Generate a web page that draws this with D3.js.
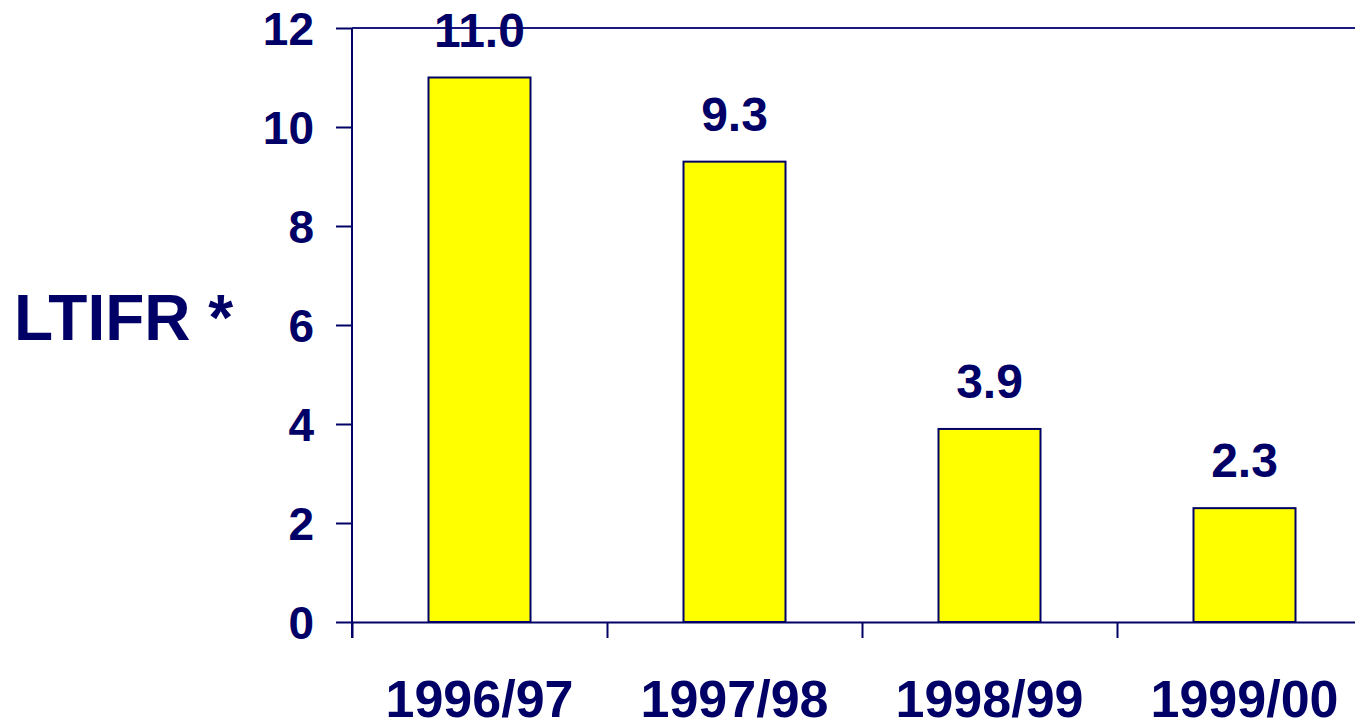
<!DOCTYPE html>
<html>
<head>
<meta charset="utf-8">
<script src="https://cdn.jsdelivr.net/npm/d3@7"></script>
<style>
    body { margin: 0; background: #fff; }
    svg text { font-family: Arial, "Liberation Sans", sans-serif; font-weight: bold; fill: #000066; }
    .axis path, .axis line { stroke: #000066; stroke-width: 2; }
</style>
</head>
<body>
<div id="chart"></div>
<script>
const years = ['1996/97', '1997/98', '1998/99', '1999/00']
const ltifr = [11.0, 9.3, 3.9, 2.3]
const yTicks = [0, 2, 4, 6, 8, 10, 12]
const yTitle = 'LTIFR *'

const width = 1355
const height = 722
const margin = {top: 28, left: 352}
const plotW = 1020
const plotH = 594

const svg = d3.select('#chart')
    .append('svg')
        .attr('width', width)
        .attr('height', height)

const plot = svg.append('g')
    .attr('transform', 'translate(' + margin.left + ',' + margin.top + ')')

// scales
const x = d3.scaleBand()
    .domain(years)
    .range([0, plotW])
    .paddingInner(0.6)
    .paddingOuter(0.3)

const xEdges = d3.scaleLinear()
    .domain([0, years.length])
    .range([0, plotW])

const y = d3.scaleLinear()
    .domain([0, 12])
    .range([plotH, 0])

// top border line at max value
plot.append('line')
    .attr('x1', 0)
    .attr('x2', plotW)
    .attr('y1', y(12))
    .attr('y2', y(12))
    .style('stroke', '#1a1a80')
    .style('stroke-width', 2)

// y axis
const yAxis = d3.axisLeft(y)
    .tickValues(yTicks)
    .tickSize(16)
    .tickPadding(22)
    .tickSizeOuter(0)

const yg = plot.append('g')
    .attr('class', 'axis')
    .call(yAxis)
yg.select('.domain').attr('d', 'M0,' + (plotH + 16) + 'V0')
yg.selectAll('text')
    .style('font-size', '46px')
    .attr('dy', '0.36em')

// x axis: ticks sit on category boundaries
const xAxis = d3.axisBottom(xEdges)
    .tickValues(d3.range(years.length + 1))
    .tickSize(16)
    .tickSizeOuter(0)
    .tickFormat('')

plot.append('g')
    .attr('class', 'axis')
    .attr('transform', 'translate(0,' + plotH + ')')
    .call(xAxis)

// category labels
plot.append('g')
    .selectAll('text')
    .data(years)
    .join('text')
        .attr('x', (d, i) => x(d) + x.bandwidth() / 2)
        .attr('y', plotH + 95)
        .attr('text-anchor', 'middle')
        .style('font-size', '52px')
        .text((d) => d)

// bars
plot.append('g')
    .selectAll('rect')
    .data(ltifr)
    .join('rect')
        .attr('x', (d, i) => x(years[i]))
        .attr('y', (d) => y(d))
        .attr('width', x.bandwidth())
        .attr('height', (d) => plotH - y(d))
        .style('fill', '#ffff00')
        .style('stroke', '#000066')
        .style('stroke-width', 2)

// value labels
plot.append('g')
    .selectAll('text')
    .data(ltifr)
    .join('text')
        .attr('x', (d, i) => x(years[i]) + x.bandwidth() / 2)
        .attr('y', (d) => y(d) - 31)
        .attr('text-anchor', 'middle')
        .style('font-size', '48px')
        .text((d) => d.toFixed(1))

// y title
svg.append('text')
    .attr('x', 14)
    .attr('y', 340)
    .style('font-size', '64px')
    .text(yTitle)
</script>
</body>
</html>
